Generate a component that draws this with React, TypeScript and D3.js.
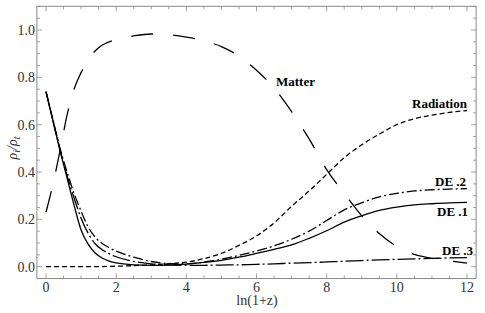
import { useRef, useEffect } from 'react';
import * as d3 from 'd3';

// sample points: x = ln(1+z)
const matterX = [0, 0.2, 0.4, 0.6, 0.8, 1.0, 1.2, 1.5, 2, 2.5, 3, 3.5, 4, 4.5, 5, 5.5, 6, 6.5, 7, 7.5, 8, 8.5, 9, 9.5, 10, 10.5, 11, 11.5, 12];
const matterY = [0.23, 0.35, 0.49, 0.64, 0.75, 0.82, 0.875, 0.925, 0.96, 0.975, 0.983, 0.98, 0.97, 0.955, 0.93, 0.89, 0.83, 0.755, 0.655, 0.54, 0.41, 0.31, 0.215, 0.14, 0.085, 0.052, 0.035, 0.025, 0.015];

const radX = [0, 1, 2, 3, 3.5, 4, 4.5, 5, 5.5, 6, 6.5, 7, 7.5, 8, 8.5, 9, 9.5, 10, 10.5, 11, 11.5, 12];
const radY = [0, 0, 0.002, 0.008, 0.013, 0.019, 0.034, 0.056, 0.09, 0.13, 0.185, 0.255, 0.32, 0.39, 0.46, 0.515, 0.56, 0.6, 0.625, 0.64, 0.652, 0.66];

const deX = [0, 0.2, 0.4, 0.6, 0.8, 1.0, 1.2, 1.4, 1.6, 1.8, 2, 2.5, 3, 3.5, 4, 4.5, 5, 5.5, 6, 6.5, 7, 7.5, 8, 8.5, 9, 9.5, 10, 10.5, 11, 11.5, 12];
const de1Y = [0.74, 0.615, 0.49, 0.375, 0.26, 0.155, 0.095, 0.058, 0.037, 0.024, 0.016, 0.008, 0.006, 0.007, 0.011, 0.018, 0.027, 0.04, 0.056, 0.073, 0.092, 0.12, 0.152, 0.188, 0.215, 0.238, 0.252, 0.261, 0.266, 0.27, 0.272];
const de2Y = [0.74, 0.62, 0.5, 0.4, 0.31, 0.235, 0.168, 0.125, 0.098, 0.08, 0.066, 0.04, 0.022, 0.013, 0.012, 0.02, 0.032, 0.048, 0.066, 0.088, 0.116, 0.15, 0.195, 0.24, 0.27, 0.295, 0.31, 0.32, 0.325, 0.328, 0.33];
const de3Y = [0.74, 0.615, 0.495, 0.385, 0.29, 0.205, 0.142, 0.097, 0.072, 0.055, 0.042, 0.022, 0.012, 0.008, 0.006, 0.006, 0.007, 0.008, 0.01, 0.012, 0.015, 0.017, 0.02, 0.023, 0.026, 0.029, 0.031, 0.033, 0.035, 0.037, 0.038];

const xMajor = [0, 2, 4, 6, 8, 10, 12];
const yMajor = [0, 0.2, 0.4, 0.6, 0.8, 1.0];

const W = 485;
const H = 313;

export default function App() {
  const svgRef = useRef<SVGSVGElement>(null);

  useEffect(() => {
    const svg = d3.select(svgRef.current).html('');

    const x = d3.scaleLinear().domain([0, 12]).range([46, 467]);
    const y = d3.scaleLinear().domain([0, 1]).range([266.7, 30]);

    const x0 = x(-0.26), x1 = x(12.26);
    const y0 = y(-0.05), y1 = y(1.1);

    const frameColor = '#8a8a8a';
    const serif = '"Liberation Serif", "DejaVu Serif", serif';

    // ticks (inside the frame, all four sides)
    const tickG = svg.append('g').attr('stroke', frameColor).attr('stroke-width', 0.8);
    const xMinor = d3.range(0, 12.01, 0.5).filter(v => !xMajor.includes(v));
    const yMinor = d3.range(0, 1.101, 0.05).map(v => +v.toFixed(2)).filter(v => !yMajor.some(m => Math.abs(m - v) < 1e-6));

    const xTicks = [...xMajor.map(v => ({ v, len: 5 })), ...xMinor.map(v => ({ v, len: 3 }))];
    const yTicks = [...yMajor.map(v => ({ v, len: 5 })), ...yMinor.map(v => ({ v, len: 3 }))];

    xTicks.forEach(t => {
      tickG.append('line').attr('x1', x(t.v)).attr('x2', x(t.v)).attr('y1', y0).attr('y2', y0 - t.len);
      tickG.append('line').attr('x1', x(t.v)).attr('x2', x(t.v)).attr('y1', y1).attr('y2', y1 + t.len);
    });
    yTicks.forEach(t => {
      tickG.append('line').attr('x1', x0).attr('x2', x0 + t.len).attr('y1', y(t.v)).attr('y2', y(t.v));
      tickG.append('line').attr('x1', x1).attr('x2', x1 - t.len).attr('y1', y(t.v)).attr('y2', y(t.v));
    });

    // frame
    svg.append('rect')
      .attr('x', x0).attr('y', y1)
      .attr('width', x1 - x0).attr('height', y0 - y1)
      .attr('fill', 'none')
      .attr('stroke', frameColor)
      .attr('stroke-width', 1);

    // tick labels
    svg.append('g').selectAll('text')
      .data(xMajor)
      .enter()
      .append('text')
      .attr('x', d => x(d))
      .attr('y', y0 + 13)
      .attr('text-anchor', 'middle')
      .attr('font-family', serif)
      .attr('font-size', '14px')
      .attr('fill', '#333')
      .text(d => d);

    svg.append('g').selectAll('text')
      .data(yMajor)
      .enter()
      .append('text')
      .attr('x', x0 - 2)
      .attr('y', d => y(d) + 5)
      .attr('text-anchor', 'end')
      .attr('font-family', serif)
      .attr('font-size', '14px')
      .attr('fill', '#333')
      .text(d => d3.format('.1f')(d));

    // axis titles
    svg.append('text')
      .attr('x', 257)
      .attr('y', 305)
      .attr('text-anchor', 'middle')
      .attr('font-family', serif)
      .attr('font-size', '14px')
      .attr('fill', '#333')
      .text('ln(1+z)');

    const yl = svg.append('text')
      .attr('transform', 'translate(17,148) rotate(-90)')
      .attr('text-anchor', 'middle')
      .attr('font-family', serif)
      .attr('font-size', '14px')
      .attr('font-style', 'italic')
      .attr('fill', '#333');
    yl.append('tspan').text('ρ');
    yl.append('tspan').attr('font-size', '10px').attr('dy', 3).text('i');
    yl.append('tspan').attr('dy', -3).text('/ρ');
    yl.append('tspan').attr('font-size', '10px').attr('dy', 3).text('t');

    // curves
    const series = [
      { xs: matterX, ys: matterY, dash: '22,20' },
      { xs: radX, ys: radY, dash: '5,3' },
      { xs: deX, ys: de1Y, dash: null },
      { xs: deX, ys: de2Y, dash: '10,3,2,3' },
      { xs: deX, ys: de3Y, dash: '18,3,2,3' }
    ];

    const line = d3.line<[number, number]>()
      .x(d => x(d[0]))
      .y(d => y(d[1]))
      .curve(d3.curveMonotoneX);

    const plot = svg.append('g');
    series.forEach(s => {
      const pts = s.xs.map((v, i) => [v, s.ys[i]] as [number, number]);
      const p = plot.append('path')
        .attr('d', line(pts))
        .attr('fill', 'none')
        .attr('stroke', '#000')
        .attr('stroke-width', 1.3);
      if (s.dash) p.attr('stroke-dasharray', s.dash);
    });

    // curve labels
    const labels = [
      { t: 'Matter', x: 276, y: 86 },
      { t: 'Radiation', x: 412, y: 108 },
      { t: 'DE .2', x: 435, y: 186 },
      { t: 'DE .1', x: 437, y: 216 },
      { t: 'DE .3', x: 442, y: 255 }
    ];
    svg.append('g').selectAll('text')
      .data(labels)
      .enter()
      .append('text')
      .attr('x', d => d.x)
      .attr('y', d => d.y)
      .attr('font-family', serif)
      .attr('font-size', '13px')
      .attr('font-weight', 'bold')
      .attr('fill', '#000')
      .text(d => d.t);
  }, []);

  return (
    <svg
      ref={svgRef}
      width={W}
      height={H}
      style={{ position: 'absolute', left: 0, top: 0, background: '#fff' }}
    />
  );
}
